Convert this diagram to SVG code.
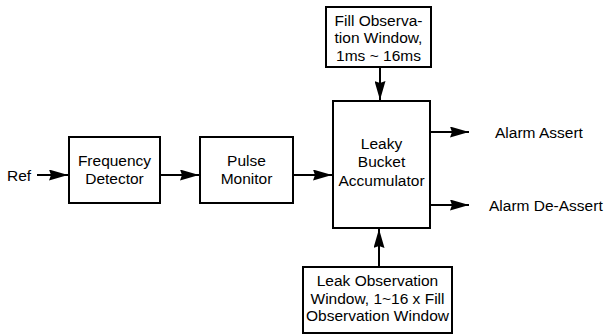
<svg xmlns="http://www.w3.org/2000/svg" width="606" height="334" viewBox="0 0 606 334">
<style>
.box{fill:#fff;stroke:#000;stroke-width:2}
.t{font-family:"Liberation Sans",Arial,sans-serif;font-size:15.5px;fill:#000;text-anchor:middle}
.l{font-family:"Liberation Sans",Arial,sans-serif;font-size:15.5px;fill:#000}
.c{stroke:#000;stroke-width:2;fill:none;marker-end:url(#ah)}
</style>
<defs>
<marker id="ah" markerUnits="userSpaceOnUse" markerWidth="19" markerHeight="11" refX="19" refY="5.5" orient="auto" viewBox="0 0 19 11">
<path d="M0,0 L19,5.5 L0,11 L2,5.5 z" fill="#000"/>
</marker>
</defs>
<rect width="606" height="334" fill="#fff"/>
<g id="connectors">
<line class="c" x1="37" y1="175" x2="68" y2="175"/>
<line class="c" x1="160" y1="175" x2="199" y2="175"/>
<line class="c" x1="293" y1="175" x2="332" y2="175"/>
<line class="c" x1="380" y1="67" x2="380" y2="100"/>
<line class="c" x1="379" y1="267" x2="379" y2="229"/>
<line class="c" x1="430" y1="132" x2="469" y2="132"/>
<line class="c" x1="430" y1="205" x2="469" y2="205"/>
</g>
<g id="ref"><text class="l" x="7" y="180.5">Ref</text></g>
<g id="freq">
<rect class="box" x="69" y="137" width="91" height="66"/>
<text class="t" x="114.5" y="166">Frequency</text>
<text class="t" x="114.5" y="184">Detector</text>
</g>
<g id="pulse">
<rect class="box" x="200" y="137" width="93" height="66"/>
<text class="t" x="246.5" y="166">Pulse</text>
<text class="t" x="246.5" y="184">Monitor</text>
</g>
<g id="fill">
<rect class="box" x="326" y="7" width="105" height="60"/>
<text class="t" x="378.5" y="26">Fill Observa-</text>
<text class="t" x="378.5" y="43">tion Window,</text>
<text class="t" x="378.5" y="61">1ms ~ 16ms</text>
</g>
<g id="leaky">
<rect class="box" x="333" y="101" width="97" height="127"/>
<text class="t" x="381.5" y="149">Leaky</text>
<text class="t" x="381.5" y="167">Bucket</text>
<text class="t" x="381.5" y="186">Accumulator</text>
</g>
<g id="leak">
<rect class="box" x="303" y="267" width="149" height="66"/>
<text class="t" x="377.5" y="285.5">Leak Observation</text>
<text class="t" x="377.5" y="303.5">Window, 1~16 x Fill</text>
<text class="t" x="377.5" y="321">Observation Window</text>
</g>
<g id="assert"><text class="l" x="495" y="137.5">Alarm Assert</text></g>
<g id="deassert"><text class="l" x="489" y="210.5">Alarm De-Assert</text></g>
</svg>
